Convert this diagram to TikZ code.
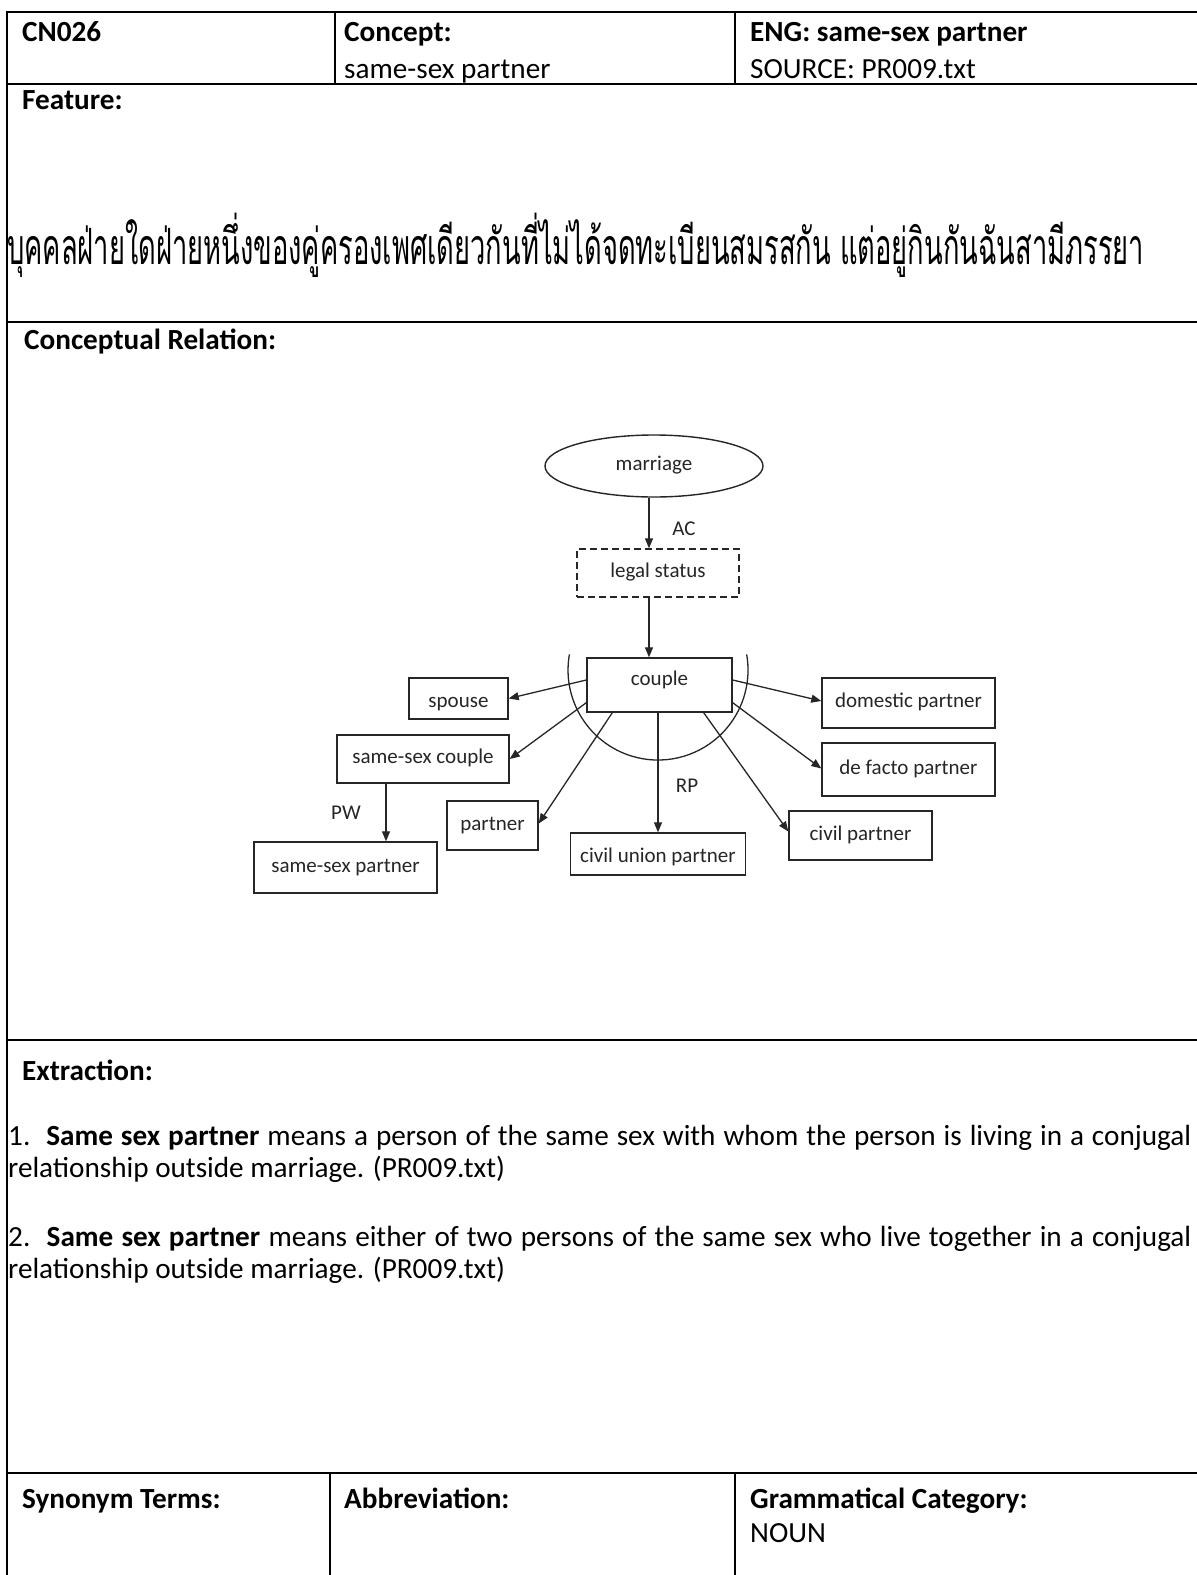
\documentclass[tikz,border=0pt]{standalone}
\usepackage{fontspec}
\setmainfont{Carlito}
\newfontfamily\thaifont[Script=Thai]{Loma}
\usetikzlibrary{shapes.geometric,arrows.meta}

\begin{document}
\begin{tikzpicture}[x=1pt,y=-1pt,
  rule/.style={line width=2pt},
  head/.style={anchor=base west,inner sep=0pt,font=\fontsize{29.2}{35}\selectfont\bfseries},
  body/.style={anchor=base west,inner sep=0pt,font=\fontsize{29.2}{35}\selectfont},
  concept/.style={draw=black!85,line width=1.4pt,inner sep=0pt,text=black!85,
    font=\fontsize{21}{24}\selectfont,text height=14.7pt,text depth=5.3pt},
  relname/.style={inner sep=0pt,text=black!85,font=\fontsize{21}{24}\selectfont},
  link/.style={draw=black!85,line width=1.3pt,-{Triangle[length=10pt,width=8pt]}}]

\useasboundingbox (0,0) rectangle (1197,1575);
\clip (0,0) rectangle (1197,1575);
\fill[white] (0,0) rectangle (1197,1575);

% ---- table rules ----
\draw[rule] (1210,12) -- (7,12) -- (7,1590);
\draw[rule] (7,84) -- (1210,84);
\draw[rule] (7,322) -- (1210,322);
\draw[rule] (7,1040) -- (1210,1040);
\draw[rule] (7,1473) -- (1210,1473);
\draw[rule] (335,12) -- (335,84);
\draw[rule] (735,12) -- (735,84);
\draw[rule] (330,1473) -- (330,1590);
\draw[rule] (735,1473) -- (735,1590);

% ---- header row ----
\node[head] (id) at (22,41) {CN026};
\node[head] (conceptlbl) at (344,41) {Concept:};
\node[body] (conceptval) at (344,78) {same-sex partner};
\node[head] (eng) at (750,41) {ENG: same-sex partner};
\node[body] (source) at (750,78) {SOURCE: PR009.txt};

% ---- feature ----
\node[head] (featlbl) at (22,109) {Feature:};
\node[anchor=west,inner sep=0pt] (feat) at (7,245)
  {\resizebox{1137pt}{\height}{\thaifont\fontsize{50}{60}\selectfont บุคคลฝ่ายใดฝ่ายหนึ่งของคู่ครองเพศเดียวกันที่ไม่ได้จดทะเบียนสมรสกัน แต่อยู่กินกันฉันสามีภรรยา}};

% ---- conceptual relation ----
\node[head] (rellbl) at (24,349) {Conceptual Relation:};

\node[concept,ellipse,minimum width=218pt,minimum height=62pt] (marriage) at (654,466) {marriage};
\node[concept,dash pattern=on 7pt off 4pt,minimum width=162pt,minimum height=48pt] (legal) at (658,573) {legal status};
\node[concept,minimum width=145pt,minimum height=54pt,text depth=14.7pt] (couple) at (659.5,685) {couple};
\node[concept,minimum width=99pt,minimum height=41pt,text height=22.7pt] (spouse) at (458.5,698.5) {spouse};
\node[concept,minimum width=172pt,minimum height=48pt] (ssc) at (423,759) {same-sex couple};
\node[concept,minimum width=91pt,minimum height=49pt] (partner) at (492.5,825.5) {partner};
\node[concept,minimum width=183pt,minimum height=51pt] (ssp) at (345.5,867.5) {same-sex partner};
\node[concept,minimum width=175pt,minimum height=42pt,text height=22.7pt] (cu) at (658,854) {civil union partner};
\node[concept,minimum width=143pt,minimum height=49pt] (cp) at (860.5,835.5) {civil partner};
\node[concept,minimum width=173pt,minimum height=53pt] (df) at (908.5,769.5) {de facto partner};
\node[concept,minimum width=173pt,minimum height=50pt] (dp) at (908.5,703) {domestic partner};

\coordinate (axis) at (649,0);
\draw[link] (marriage.south -| axis) -- (legal.north -| axis);
\draw[link] (legal.south -| axis) -- (couple.north -| axis);
\node[relname] (ac) at (684,529) {AC};

% relation bracket around the couple node
\draw[draw=black!85,line width=1.3pt] (569.4,654.4) arc[start angle=190,end angle=-10,radius=90];

\draw[link] ([yshift=5pt]couple.west) -- (spouse.east);
\draw[link] ([yshift=10pt]couple.south west) -- (ssc.east);
\draw[link] ([xshift=26pt]couple.south west) -- ([yshift=2pt]partner.east);
\draw[link] (couple.south -| cu.north) -- (cu.north);
\draw[link] ([xshift=-29pt]couple.south east) -- ([yshift=4pt]cp.west);
\draw[link] ([yshift=10pt]couple.south east) -- ([yshift=1pt]df.west);
\draw[link] ([yshift=5pt]couple.east) -- ([yshift=2pt]dp.west);
\node[relname] (rp) at (687,786) {RP};

\draw[link] ([xshift=-37pt]ssc.south) -- ([xshift=-37pt]ssc.south |- ssp.north);
\node[relname] (pw) at (346,813) {PW};

% ---- extraction ----
\node[head] (extlbl) at (22,1080) {Extraction:};
\node[body] (ex1a) at (8,1145) {\makebox[1183pt][s]{1.\ \ \textbf{Same sex partner} means a person of the same sex with whom the person is living in a conjugal}};
\node[body] (ex1b) at (8,1177) {relationship outside marriage. (PR009.txt)};
\node[body] (ex2a) at (8,1246) {\makebox[1183pt][s]{2.\ \ \textbf{Same sex partner} means either of two persons of the same sex who live together in a conjugal}};
\node[body] (ex2b) at (8,1278) {relationship outside marriage. (PR009.txt)};

% ---- bottom row ----
\node[head] (synlbl) at (22,1508) {Synonym Terms:};
\node[head] (abblbl) at (344,1508) {Abbreviation:};
\node[head] (gramlbl) at (750,1508) {Grammatical Category:};
\node[body] (gram) at (750,1542) {NOUN};
\end{tikzpicture}
\end{document}
